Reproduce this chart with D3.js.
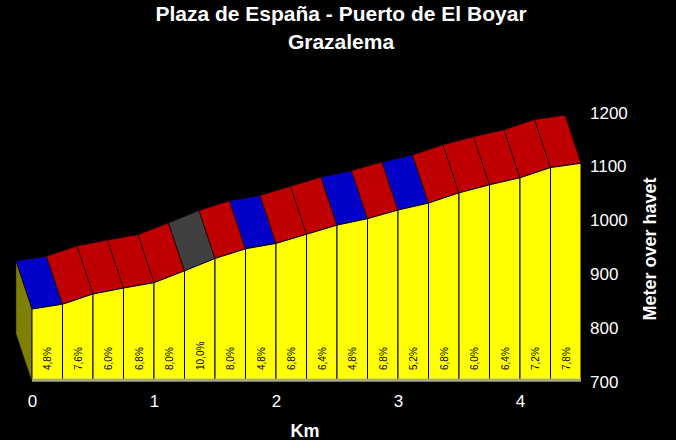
<!DOCTYPE html>
<html><head><meta charset="utf-8">
<script src="https://cdn.jsdelivr.net/npm/d3@7"></script>
<style>
html,body{margin:0;padding:0;background:#000;}
svg{display:block;}
text{font-family:"Liberation Sans",Arial,sans-serif;}
</style></head>
<body>
<svg id="c" width="676" height="440"></svg>
<script>
// Data
const titleLines = ["Plaza de España - Puerto de El Boyar", "Grazalema"];
const distances = [0,0.25,0.5,0.75,1,1.25,1.5,1.75,2,2.25,2.5,2.75,3,3.25,3.5,3.75,4,4.25,4.5];
const elevations = [835,844,863,874,884,906,929,947,957,974,991,1003,1019,1032,1051,1066,1079,1098,1106];
const gradients = [4.8,7.6,6.0,6.8,8.0,10.0,8.0,4.8,6.8,6.4,4.8,6.8,5.2,6.8,6.0,6.4,7.2,7.8];
const xTicks = [0,1,2,3,4];
const yTicks = [700,800,900,1000,1100,1200];
const xTitle = "Km";
const yTitle = "Meter over havet";

const svg = d3.select("#c");
svg.append("rect").attr("width",676).attr("height",440).attr("fill","#000");

const x = d3.scaleLinear().domain([0,4.5]).range([32,581]);
const y = d3.scaleLinear().domain([700,1200]).range([381.7,112.7]);
const DX = -16, DY = -48;
const base = 700;

const color = d3.scaleThreshold().domain([5.5,9.5]).range(["#0000C8","#C00000","#404040"]);

const segs = gradients.map((g,i)=>({g, x0:distances[i], x1:distances[i+1], e0:elevations[i], e1:elevations[i+1]}));

// left side face
const e0 = elevations[0];
svg.append("polygon")
  .attr("points", [[x(0),y(e0)],[x(0)+DX,y(e0)+DY],[x(0)+DX,y(base)+DY],[x(0),y(base)]].map(p=>p.join(",")).join(" "))
  .attr("fill","#808000").attr("stroke","#202000").attr("stroke-width",0.5);

// top ribbons
svg.append("g").selectAll("polygon").data(segs).join("polygon")
  .attr("points", d=>[[x(d.x0),y(d.e0)],[x(d.x1),y(d.e1)],[x(d.x1)+DX,y(d.e1)+DY],[x(d.x0)+DX,y(d.e0)+DY]].map(p=>p.join(",")).join(" "))
  .attr("fill", d=>color(d.g))
  .attr("stroke","#200000").attr("stroke-width",0.8).attr("stroke-linejoin","round");

// front face
svg.append("g").selectAll("polygon").data(segs).join("polygon")
  .attr("points", d=>[[x(d.x0),y(d.e0)],[x(d.x1),y(d.e1)],[x(d.x1),y(base)],[x(d.x0),y(base)]].map(p=>p.join(",")).join(" "))
  .attr("fill","#FFFF00")
  .attr("stroke","#000").attr("stroke-width",1);

// bottom edge sliver
svg.append("rect")
  .attr("x",x(0)).attr("y",y(base)-3).attr("width",x(4.5)-x(0)).attr("height",3)
  .attr("fill","#a8a880");

// gradient labels
svg.append("g").selectAll("text").data(segs).join("text")
  .attr("transform", d=>`translate(${(x(d.x0)+x(d.x1))/2+4},370) rotate(-90)`)
  .attr("text-anchor","start")
  .attr("font-size","10px")
  .attr("fill","#000")
  .text(d=>d.g.toFixed(1).replace(".",",")+"%");

// x axis
const xa = svg.append("g").attr("transform",`translate(0,${y(base)})`)
  .call(d3.axisBottom(x).tickValues(xTicks).tickSize(0).tickPadding(13).tickFormat(d3.format("d")));
xa.select(".domain").remove();
xa.selectAll("text").attr("fill","#fff").attr("font-size","17px").attr("font-family","'Liberation Sans',Arial,sans-serif");

// y axis
const ya = svg.append("g").attr("transform",`translate(590,0)`)
  .call(d3.axisRight(y).tickValues(yTicks).tickSize(0).tickPadding(0).tickFormat(d3.format("d")));
ya.select(".domain").remove();
ya.selectAll("text").attr("fill","#fff").attr("font-size","17px").attr("font-family","'Liberation Sans',Arial,sans-serif");

// titles
svg.selectAll("text.title").data(titleLines).join("text")
  .attr("class","title")
  .attr("x",341).attr("y",(d,i)=>21+i*28)
  .attr("text-anchor","middle").attr("font-weight","bold").attr("font-size","21px")
  .attr("fill","#fff").text(d=>d);

svg.append("text").attr("x",305).attr("y",436.5).attr("text-anchor","middle")
  .attr("font-weight","bold").attr("font-size","18px").attr("fill","#fff").text(xTitle);

svg.append("text").attr("transform","translate(655.5,249) rotate(-90)").attr("text-anchor","middle")
  .attr("font-weight","bold").attr("font-size","18px").attr("fill","#fff").text(yTitle);
</script>
</body></html>
